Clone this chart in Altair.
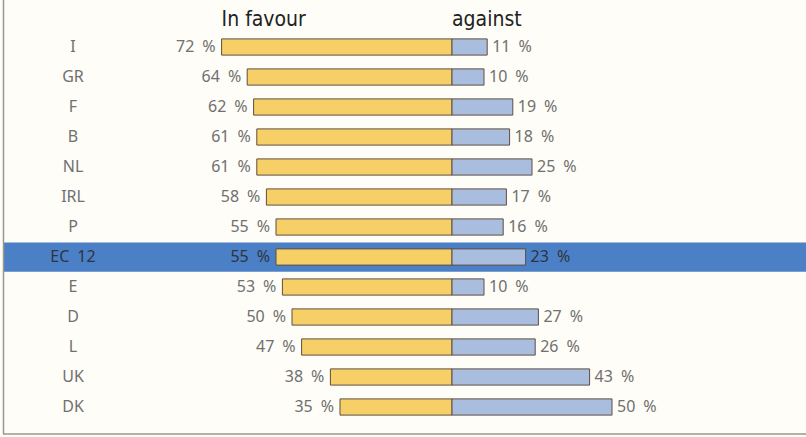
import altair as alt
import pandas as pd

countries = ["I", "GR", "F", "B", "NL", "IRL", "P", "EC 12", "E", "D", "L", "UK", "DK"]
favour = [72, 64, 62, 61, 61, 58, 55, 55, 53, 50, 47, 38, 35]
against = [11, 10, 19, 18, 25, 17, 16, 23, 10, 27, 26, 43, 50]
highlight = "EC 12"
headers = ["In favour", "against"]

df = pd.DataFrame({
    "country": countries,
    "idx": list(range(len(countries))),
    "favour": favour,
    "against": against,
})
df["neg_favour"] = -df["favour"]
df["zero"] = 0
df["fav_label"] = df["favour"].astype(str) + "\u2002%"
df["ag_label"] = df["against"].astype(str) + "\u2002%"
df["country_label"] = df["country"].str.replace(" ", "\u2002")
df["hl"] = df["country"] == highlight

hdr = pd.DataFrame({"label": headers, "xpos": [-favour[0], 0], "idx": [-0.9, -0.9]})

xs = alt.Scale(domain=[-141.25, 110.625], range=[0, 806], nice=False, zero=False)
ys = alt.Scale(domain=[0, 12], range=[47, 407], nice=False, zero=False)

base = alt.Chart(df)

band = base.transform_filter(alt.datum.hl).transform_calculate(
    y0="datum.idx - 0.48", y1="datum.idx + 0.49"
).mark_rect(color="#4C80C6").encode(
    x=alt.value(3), x2=alt.value(806),
    y=alt.Y("y0:Q", scale=ys, axis=None), y2="y1:Q",
)

fav_bar = base.transform_calculate(
    y0="datum.idx - 0.27", y1="datum.idx + 0.27"
).mark_rect(color="#F6CF66", stroke="#5E4E40", strokeWidth=1).encode(
    x=alt.X("neg_favour:Q", scale=xs, axis=None), x2="zero:Q",
    y=alt.Y("y0:Q", scale=ys, axis=None), y2="y1:Q",
)

ag_bar = base.transform_calculate(
    y0="datum.idx - 0.27", y1="datum.idx + 0.27"
).mark_rect(color="#A9BEDF", stroke="#5E4E40", strokeWidth=1).encode(
    x=alt.X("zero:Q", scale=xs, axis=None), x2="against:Q",
    y=alt.Y("y0:Q", scale=ys, axis=None), y2="y1:Q",
)

font = "Noto Sans"
txt_color = alt.condition(alt.datum.hl, alt.value("#2E3440"), alt.value("#707070"))

country_txt = base.mark_text(align="center", baseline="middle", font=font, fontSize=16).encode(
    x=alt.value(73),
    y=alt.Y("idx:Q", scale=ys, axis=None),
    text="country_label:N",
    color=txt_color,
)

fav_txt = base.mark_text(align="right", baseline="middle", dx=-6, font=font, fontSize=16).encode(
    x=alt.X("neg_favour:Q", scale=xs, axis=None),
    y=alt.Y("idx:Q", scale=ys, axis=None),
    text="fav_label:N",
    color=txt_color,
)

ag_txt = base.mark_text(align="left", baseline="middle", dx=5, font=font, fontSize=16).encode(
    x=alt.X("against:Q", scale=xs, axis=None),
    y=alt.Y("idx:Q", scale=ys, axis=None),
    text="ag_label:N",
    color=txt_color,
)

hdr_txt = alt.Chart(hdr).mark_text(
    align="left", baseline="middle", font="DejaVu Sans Condensed", fontSize=21, color="#222222"
).encode(
    x=alt.X("xpos:Q", scale=xs, axis=None),
    y=alt.Y("idx:Q", scale=ys, axis=None),
    text="label:N",
)

left_line = alt.Chart(df.head(1)).mark_rule(color="#9C968C", strokeWidth=1.5).encode(
    x=alt.value(3.5), y=alt.value(0), y2=alt.value(434)
)
bottom_line = alt.Chart(df.head(1)).mark_rule(color="#9C968C", strokeWidth=1.5).encode(
    x=alt.value(3), x2=alt.value(806), y=alt.value(434)
)

chart = alt.layer(
    band, fav_bar, ag_bar, country_txt, fav_txt, ag_txt, hdr_txt, left_line, bottom_line
).properties(
    width=806, height=437, autosize="none", padding=0, background="#FEFDF7"
).configure_view(stroke=None)

chart.save("out.html", embed_options={"renderer": "svg", "actions": False})
